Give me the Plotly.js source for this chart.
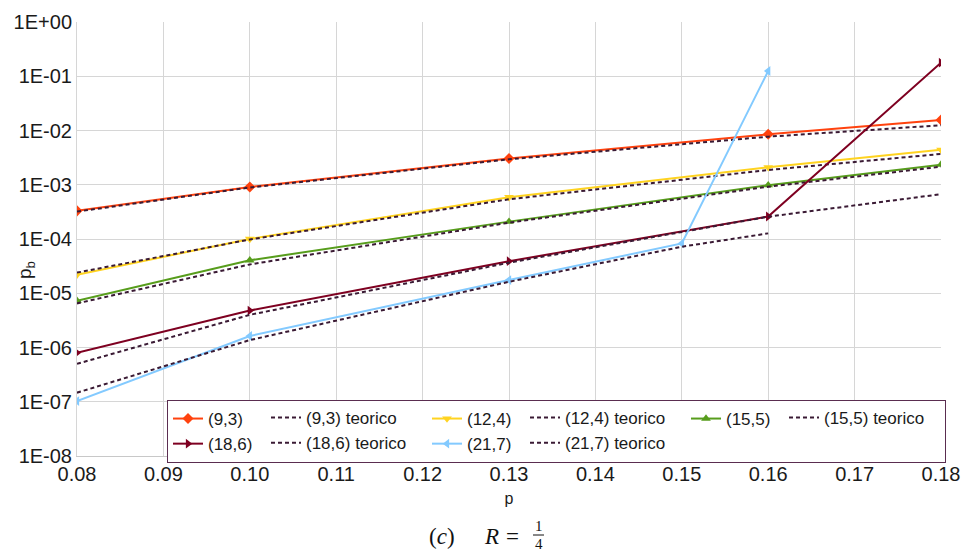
<!DOCTYPE html>
<html><head><meta charset="utf-8">
<script src="https://cdn.plot.ly/plotly-3.0.1.min.js"></script>
<style>html,body{margin:0;padding:0;background:#fff}#chart{width:965px;height:552px}</style>
</head><body><div id="chart"></div>
<script>
// ---- data ----
const pMain = [0.08, 0.10, 0.13, 0.16, 0.18];
const p217 = [0.08, 0.10, 0.13, 0.15, 0.16];

const pb93 = [3.3e-4, 9.1e-4, 3.05e-3, 8.5e-3, 1.56e-2];
const pb93teo = [3.2e-4, 8.9e-4, 2.94e-3, 7.7e-3, 1.25e-2];
const pb124 = [2.2e-5, 1.0e-4, 5.9e-4, 2.1e-3, 4.4e-3];
const pb124teo = [2.4e-5, 9.8e-5, 5.4e-4, 1.87e-3, 3.7e-3];
const pb155 = [7.3e-6, 4.05e-5, 2.09e-4, 9.8e-4, 2.35e-3];
const pb155teo = [6.5e-6, 3.4e-5, 2.0e-4, 9.2e-4, 2.15e-3];
const pb186 = [8.0e-7, 4.8e-6, 3.9e-5, 2.6e-4, 0.178];
const pb186teo = [5.0e-7, 4.0e-6, 3.66e-5, 2.58e-4, 6.7e-4];
const pb217 = [1.03e-7, 1.63e-6, 1.75e-5, 8.3e-5, 0.125];
const pb217teo = [1.47e-7, 1.37e-6, 1.63e-5, 7.2e-5, 1.27e-4];

const seriesNames = ['(9,3)', '(12,4)', '(15,5)', '(18,6)', '(21,7)'];
const yTickVals = [1e-8, 1e-7, 1e-6, 1e-5, 1e-4, 1e-3, 1e-2, 1e-1, 1];
const yTickText = ['1E-08', '1E-07', '1E-06', '1E-05', '1E-04', '1E-03', '1E-02', '1E-01', '1E+00'];

// ---- styles ----
const colors = ['#ff420e', '#ffd320', '#579d1c', '#7e0021', '#83caff'];
const symbols = ['diamond', 'triangle-down', 'triangle-up', 'triangle-right', 'triangle-left'];
const teoColor = '#3a1a34';

const xs = [pMain, pMain, pMain, pMain, p217];
const ys = [pb93, pb124, pb155, pb186, pb217];
const yteo = [pb93teo, pb124teo, pb155teo, pb186teo, pb217teo];

const traces = [];
for (let i = 0; i < 5; i++) {
  traces.push({
    x: xs[i], y: ys[i], name: seriesNames[i], type: 'scatter', mode: 'lines+markers',
    line: {color: colors[i], width: 2}, marker: {symbol: symbols[i], size: 8.5, color: colors[i]},
    legend: 'legend'
  });
  traces.push({
    x: xs[i], y: yteo[i], name: seriesNames[i] + ' teorico', type: 'scatter', mode: 'lines',
    line: {color: teoColor, width: 2, dash: '4px,3px'},
    legend: 'legend2'
  });
}

const fontSans = 'Liberation Sans, Arial, sans-serif';
const serif = 'Liberation Serif, DejaVu Serif, serif';
const px = v => (v - 77) / 864;
const py = v => (456 - v) / 434;

const layout = {
  width: 965, height: 552,
  margin: {l: 77, r: 24, t: 22, b: 96, autoexpand: false},
  paper_bgcolor: '#fff', plot_bgcolor: '#fff',
  font: {family: fontSans, color: '#1a1a1a'},
  xaxis: {
    range: [0.08, 0.18], dtick: 0.01, tick0: 0.08, tickformat: '.2f',
    showgrid: true, gridcolor: '#d6d6d6', gridwidth: 1,
    showline: true, linecolor: '#c8c8c8', linewidth: 1, mirror: false,
    zeroline: false, ticks: '', tickfont: {size: 20, family: fontSans, color: '#1a1a1a'},
    title: {text: 'p', font: {size: 16, family: fontSans}, standoff: 8}
  },
  yaxis: {
    type: 'log', range: [-8, 0], tickvals: yTickVals, ticktext: yTickText,
    showgrid: true, gridcolor: '#d6d6d6', gridwidth: 1,
    showline: true, linecolor: '#d6d6d6', linewidth: 1,
    zeroline: false, ticks: '', tickfont: {size: 20, family: fontSans, color: '#1a1a1a'}
  },
  legend: {
    orientation: 'h', x: px(167), y: py(400), xanchor: 'left', yanchor: 'top',
    bgcolor: '#ffffff', bordercolor: '#5a2d50', borderwidth: 1,
    entrywidth: 214, entrywidthmode: 'pixels', itemwidth: 30,
    font: {size: 17, family: fontSans, color: '#1a1a1a'}, traceorder: 'normal'
  },
  legend2: {
    orientation: 'h', x: px(167 + 99), y: py(400), xanchor: 'left', yanchor: 'top',
    bgcolor: 'rgba(0,0,0,0)', borderwidth: 0,
    entrywidth: 214, entrywidthmode: 'pixels', itemwidth: 30,
    font: {size: 17, family: fontSans, color: '#1a1a1a'}, traceorder: 'normal'
  },
  annotations: [
    {xref: 'paper', yref: 'paper', x: px(26), y: py(270), text: 'p<sub>b</sub>', textangle: -90,
     showarrow: false, font: {family: fontSans, size: 19, color: '#1a1a1a'}, xanchor: 'center', yanchor: 'middle'},
    {xref: 'paper', yref: 'paper', x: px(442), y: py(536), text: '(<i>c</i>)',
     showarrow: false, font: {family: serif, size: 23, color: '#111'}, xanchor: 'center', yanchor: 'middle'},
    {xref: 'paper', yref: 'paper', x: px(491), y: py(536), text: '<i>R</i>',
     showarrow: false, font: {family: serif, size: 23, color: '#111'}, xanchor: 'center', yanchor: 'middle'},
    {xref: 'paper', yref: 'paper', x: px(512.5), y: py(536), text: '=',
     showarrow: false, font: {family: serif, size: 23, color: '#111'}, xanchor: 'center', yanchor: 'middle'},
    {xref: 'paper', yref: 'paper', x: px(538.5), y: py(526), text: '1',
     showarrow: false, font: {family: serif, size: 15, color: '#111'}, xanchor: 'center', yanchor: 'middle'},
    {xref: 'paper', yref: 'paper', x: px(538.5), y: py(543.5), text: '4',
     showarrow: false, font: {family: serif, size: 15, color: '#111'}, xanchor: 'center', yanchor: 'middle'}
  ],
  shapes: [
    {type: 'line', xref: 'paper', yref: 'paper', x0: px(533), x1: px(544),
     y0: py(535), y1: py(535), line: {color: '#111', width: 1}}
  ]
};

Plotly.newPlot('chart', traces, layout, {displayModeBar: false, staticPlot: true});
</script>
</body></html>
